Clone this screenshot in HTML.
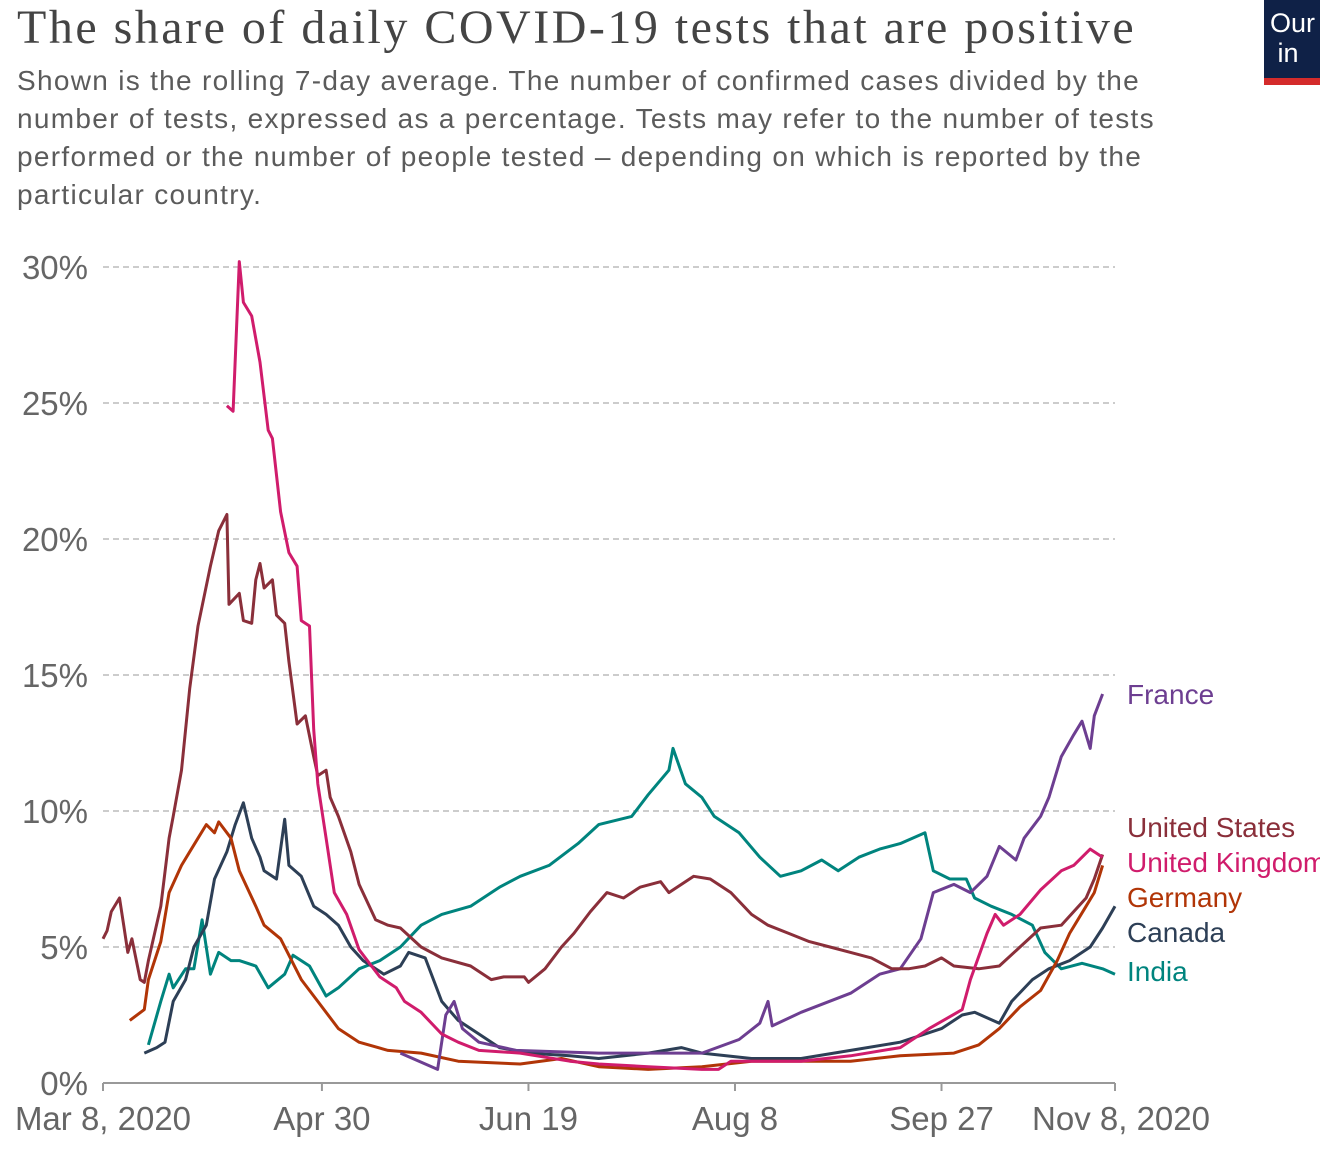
<!DOCTYPE html>
<html><head><meta charset="utf-8"><style>
body{margin:0;background:#fff;width:1320px;height:1166px;overflow:hidden;font-family:"Liberation Sans",sans-serif}
#title{position:absolute;left:17px;top:0px;font-family:"Liberation Serif",serif;font-size:48px;letter-spacing:2.5px;color:#444;white-space:nowrap}
#sub{position:absolute;left:17px;top:62px;font-size:28px;line-height:38px;letter-spacing:1.3px;color:#5b5b5b;white-space:nowrap}
#logo{position:absolute;left:1264px;top:0;width:56px;height:70px;padding-top:8px;background:#0f2147;border-bottom:7px solid #d42b2b;color:#fff;font-size:27px;line-height:30px;padding-left:6px;box-sizing:content-box}
svg{position:absolute;left:0;top:0}
</style></head><body>
<div id="title">The share of daily COVID-19 tests that are positive</div>
<div id="sub">Shown is the rolling 7-day average. The number of confirmed cases divided by the<br>number of tests, expressed as a percentage. Tests may refer to the number of tests<br>performed or the number of people tested – depending on which is reported by the<br>particular country.</div>
<div id="logo">Our<br>&nbsp;in</div>
<svg id="chart" width="1320" height="1166"></svg>
<script>
const yTicks=[0,5,10,15,20,25,30];
const xTickDays=[0,53,103,153,203,245];
const xTickLabels=["Mar 8, 2020","Apr 30","Jun 19","Aug 8","Sep 27","Nov 8, 2020"];
const seriesNames=["France","United States","United Kingdom","Germany","Canada","India"];
const seriesColors=["#6d3e91","#8a2f3a","#d01c6c","#b13507","#2d3f56","#00847e"];
const labelY=[694,827,862,897,932,971];
const franceDays=[72,81,83,85,87,91,100,120,145,154,159,161,162,169,181,188,193,198,201,206,210,214,217,221,223,227,229,232,235,237,239,240,242];
const franceVals=[1.1,0.5,2.5,3.0,2.0,1.5,1.2,1.1,1.1,1.6,2.2,3.0,2.1,2.6,3.3,4.0,4.2,5.3,7.0,7.3,7.0,7.6,8.7,8.2,9.0,9.8,10.5,12.0,12.8,13.3,12.3,13.5,14.3];
const usDays=[0,1,2,4,5,6,7,9,10,11,14,16,17,19,21,23,26,28,30,30.5,33,34,36,37,38,39,41,42,44,45,47,49,51,52,54,55,57,60,62,66,69,72,77,82,89,94,97,102,103,107,111,114,118,122,126,130,135,137,143,147,152,157,161,166,171,176,181,186,191,195,199,203,206,212,217,222,227,232,235,238,240,242];
const usVals=[5.3,5.6,6.3,6.8,5.8,4.8,5.3,3.8,3.7,4.5,6.5,9.0,9.8,11.5,14.5,16.8,19.0,20.3,20.9,17.6,18.0,17.0,16.9,18.5,19.1,18.2,18.5,17.2,16.9,15.5,13.2,13.5,12.0,11.3,11.5,10.5,9.8,8.5,7.3,6.0,5.8,5.7,5.0,4.6,4.3,3.8,3.9,3.9,3.7,4.2,5.0,5.5,6.3,7.0,6.8,7.2,7.4,7.0,7.6,7.5,7.0,6.2,5.8,5.5,5.2,5.0,4.8,4.6,4.2,4.2,4.3,4.6,4.3,4.2,4.3,5.0,5.7,5.8,6.3,6.8,7.5,8.4];
const ukDays=[30,31.5,33,34,36,38,40,41,43,45,47,48,50,51,52,54,56,59,62,67,71,73,77,82,86,91,101,113,120,132,145,149,152,169,181,193,200,208,210,214,216,218,222,227,232,235,239,242];
const ukVals=[24.9,24.7,30.2,28.7,28.2,26.5,24.0,23.7,21.0,19.5,19.0,17.0,16.8,13.0,11.0,9.0,7.0,6.2,4.9,3.9,3.5,3.0,2.6,1.8,1.5,1.2,1.1,0.8,0.7,0.6,0.5,0.5,0.8,0.8,1.0,1.3,2.0,2.7,3.8,5.5,6.2,5.8,6.2,7.1,7.8,8.0,8.6,8.3];
const deDays=[6.5,10,11,14,16,19,21,23,25,27,28,31,33,37,39,43,48,52,57,62,69,77,86,101,111,120,132,145,157,169,181,193,206,212,217,222,227,231,234,238,240,242];
const deVals=[2.3,2.7,3.8,5.2,7.0,8.0,8.5,9.0,9.5,9.2,9.6,9.0,7.8,6.5,5.8,5.3,3.8,3.0,2.0,1.5,1.2,1.1,0.8,0.7,0.9,0.6,0.5,0.6,0.8,0.8,0.8,1.0,1.1,1.4,2.0,2.8,3.4,4.5,5.5,6.5,7.0,8.0];
const caDays=[10,13,15,17,20,22,25,27,30,32,34,36,38,39,42,44,45,48,51,54,57,60,63,68,72,74,78,82,86,91,96,103,113,120,132,140,145,157,169,181,193,203,208,211,217,220,225,229,234,239,242,245];
const caVals=[1.1,1.3,1.5,3.0,3.8,5.0,5.8,7.5,8.5,9.5,10.3,9.0,8.3,7.8,7.5,9.7,8.0,7.6,6.5,6.2,5.8,5.0,4.5,4.0,4.3,4.8,4.6,3.0,2.3,1.8,1.3,1.1,1.0,0.9,1.1,1.3,1.1,0.9,0.9,1.2,1.5,2.0,2.5,2.6,2.2,3.0,3.8,4.2,4.5,5.0,5.7,6.5];
const inDays=[11,14,16,17,20,22,24,26,28,31,33,37,40,44,46,50,54,57,62,67,72,77,82,89,96,101,108,115,120,128,132,137,138,141,145,148,154,159,164,169,174,178,183,188,193,199,201,205,209,211,215,220,225,228,232,237,242,245];
const inVals=[1.4,3.0,4.0,3.5,4.2,4.2,6.0,4.0,4.8,4.5,4.5,4.3,3.5,4.0,4.7,4.3,3.2,3.5,4.2,4.5,5.0,5.8,6.2,6.5,7.2,7.6,8.0,8.8,9.5,9.8,10.6,11.5,12.3,11.0,10.5,9.8,9.2,8.3,7.6,7.8,8.2,7.8,8.3,8.6,8.8,9.2,7.8,7.5,7.5,6.8,6.5,6.2,5.8,4.8,4.2,4.4,4.2,4.0];
const allDays=[franceDays,usDays,ukDays,deDays,caDays,inDays];
const allVals=[franceVals,usVals,ukVals,deVals,caVals,inVals];

const NS="http://www.w3.org/2000/svg";
const svg=document.getElementById('chart');
const x0=103,x1=1115,y0=1083,y1=267;
const xs=d=>x0+(x1-x0)*d/245;
const ys=v=>y0-(y0-y1)*v/30;
function mk(t,a){const e=document.createElementNS(NS,t);for(const k in a)e.setAttribute(k,a[k]);svg.appendChild(e);return e;}
yTicks.forEach(v=>{
  if(v>0){const g=mk('line',{x1:x0,x2:x1,y1:ys(v),y2:ys(v),stroke:'#ccc','stroke-width':2,'stroke-dasharray':'6,4'});
  
  }
  const t=mk('text',{x:88,y:ys(v)+12,'text-anchor':'end','font-size':33,fill:'#666','font-family':'Liberation Sans, sans-serif'});
  t.textContent=v+'%';
  
  
});
const ax=mk('line',{x1:x0,x2:x1,y1:y0,y2:y0,stroke:'#999','stroke-width':2});


xTickDays.forEach((d,i)=>{
  const tk=mk('line',{x1:xs(d),x2:xs(d),y1:y0,y2:y0+8,stroke:'#999','stroke-width':2});
  
  
  let anchor='middle',xx=xs(d);
  if(i==xTickLabels.length-1){anchor='end';xx=1210;}
  const t=mk('text',{x:xx,y:1130,'text-anchor':anchor,'font-size':33,fill:'#666','font-family':'Liberation Sans, sans-serif'});
  t.textContent=xTickLabels[i];
  
  
});
const order=[5,4,3,0,1,2];
order.forEach(i=>{
  const pts=allDays[i].map((d,j)=>xs(d).toFixed(1)+','+ys(allVals[i][j]).toFixed(1)).join(' ');
  const p=mk('polyline',{points:pts,fill:'none',stroke:seriesColors[i],'stroke-width':3,'stroke-linejoin':'round'});
  
  
});
seriesNames.forEach((n,i)=>{
  const t=mk('text',{x:1127,y:labelY[i]+10,'font-size':28,fill:seriesColors[i],'font-family':'Liberation Sans, sans-serif'});
  t.textContent=n;
  
  
});
</script>
</body></html>
